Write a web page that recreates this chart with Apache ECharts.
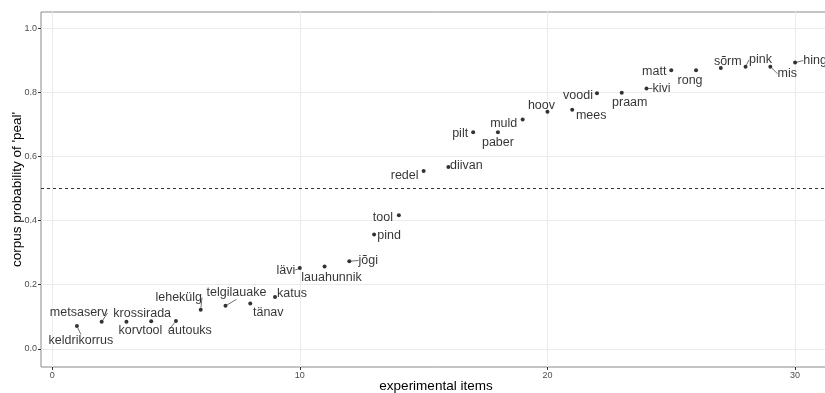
<!DOCTYPE html>
<html>
<head>
<meta charset="utf-8">
<script src="https://cdn.jsdelivr.net/npm/echarts@6/dist/echarts.min.js"></script>
<style>
  html, body { margin: 0; padding: 0; background: #fff; }
  #chart { width: 825px; height: 393px; }
</style>
</head>
<body>
<div id="chart"></div>
<script>
// Experimental items ordered by their corpus probability of 'peal'
const items = [
  'keldrikorrus', 'metsaserv', 'korvtool', 'krossirada', 'autouks',
  'lehekülg', 'telgilauake', 'tänav', 'katus', 'lävi',
  'lauahunnik', 'jõgi', 'pind', 'tool', 'redel',
  'diivan', 'pilt', 'paber', 'muld', 'hoov',
  'mees', 'voodi', 'praam', 'kivi', 'matt',
  'rong', 'sõrm', 'pink', 'mis', 'hing'
];
const itemIndex = [
  1, 2, 3, 4, 5, 6, 7, 8, 9, 10,
  11, 12, 13, 14, 15, 16, 17, 18, 19, 20,
  21, 22, 23, 24, 25, 26, 27, 28, 29, 30
];
const probPeal = [
  0.071, 0.084, 0.084, 0.086, 0.087,
  0.122, 0.134, 0.141, 0.162, 0.252,
  0.257, 0.273, 0.357, 0.417, 0.555,
  0.568, 0.676, 0.676, 0.716, 0.740,
  0.747, 0.798, 0.800, 0.813, 0.870,
  0.870, 0.877, 0.881, 0.881, 0.894
];
const threshold = 0.5;
const xTicks = [0, 10, 20, 30];
const yTicks = [0, 0.2, 0.4, 0.6, 0.8, 1.0];

// Repelled label placement (pixel shift of each label from its point)
const labelShift = [
  [4, 15], [-23, -9], [14, 9], [-9, -8], [14, 10],
  [-22, -12], [11, -13], [18, 9], [17, -3], [-14, 2],
  [7, 11], [19, -1], [15, 1], [-16, 2], [-19, 4],
  [18, -1], [-13, 1], [0, 10], [-19, 4], [-6, -6],
  [19, 6], [-19, 2], [8, 10], [15, 0], [-17, 1],
  [-6, 10], [7, -6], [15, -7], [17, 7], [20, -2]
];
// Labels pushed far enough to get a leader segment
const withLeader = ['keldrikorrus', 'metsaserv', 'autouks', 'lehekülg', 'telgilauake',
  'lävi', 'jõgi', 'kivi', 'pink', 'mis', 'hing'];

const points = items.map((name, i) => ({
  name: name,
  value: [itemIndex[i], probPeal[i]],
  labelLine: { show: withLeader.indexOf(name) >= 0 }
}));

const fontFamily = 'Liberation Sans, Arial, sans-serif';
const tickText = { color: '#4d4d4d', fontSize: 9, fontFamily: fontFamily };
const titleText = { color: '#000', fontSize: 13.5, fontFamily: fontFamily };

const chart = echarts.init(document.getElementById('chart'), null, { renderer: 'canvas' });
chart.setOption({
  animation: false,
  backgroundColor: '#fff',
  grid: {
    left: 41, top: 12, right: -6, bottom: 26,
    containLabel: false,
    outerBoundsMode: 'none',
    show: true, borderColor: '#8a8a8a', borderWidth: 1, backgroundColor: '#fff'
  },
  xAxis: {
    type: 'value', min: -0.45, max: 31.45,
    name: 'experimental items', nameLocation: 'middle', nameGap: 12,
    nameMoveOverlap: false,
    nameTextStyle: titleText,
    axisLine: { show: false, onZero: false },
    axisTick: { show: true, length: 3, customValues: xTicks, lineStyle: { color: '#333', width: 1 } },
    axisLabel: { customValues: xTicks, margin: 4, ...tickText },
    splitLine: { show: true, lineStyle: { color: '#ebebeb', width: 1 } }
  },
  yAxis: {
    type: 'value', min: -0.057, max: 1.052,
    name: "corpus probability of 'peal'", nameLocation: 'middle', nameGap: 17,
    nameMoveOverlap: false,
    nameTextStyle: titleText,
    axisLine: { show: false, onZero: false },
    axisTick: { show: true, length: 3, customValues: yTicks, lineStyle: { color: '#333', width: 1 } },
    axisLabel: { customValues: yTicks, margin: 4, formatter: v => v.toFixed(1), ...tickText },
    splitLine: { show: true, lineStyle: { color: '#ebebeb', width: 1 } }
  },
  series: [{
    type: 'scatter',
    data: points,
    symbol: 'circle',
    symbolSize: 4,
    itemStyle: { color: '#000' },
    label: {
      show: true,
      position: 'inside',
      formatter: p => p.name,
      color: '#000',
      fontSize: 12.5,
      fontFamily: fontFamily
    },
    labelLine: { show: true, lineStyle: { color: '#333', width: 0.7 } },
    labelLayout: p => ({ dx: labelShift[p.dataIndex][0], dy: labelShift[p.dataIndex][1] }),
    markLine: {
      silent: true,
      symbol: 'none',
      label: { show: false },
      lineStyle: { color: '#333', type: [3, 3], width: 1 },
      data: [{ yAxis: threshold }]
    }
  }]
});
</script>
</body>
</html>
